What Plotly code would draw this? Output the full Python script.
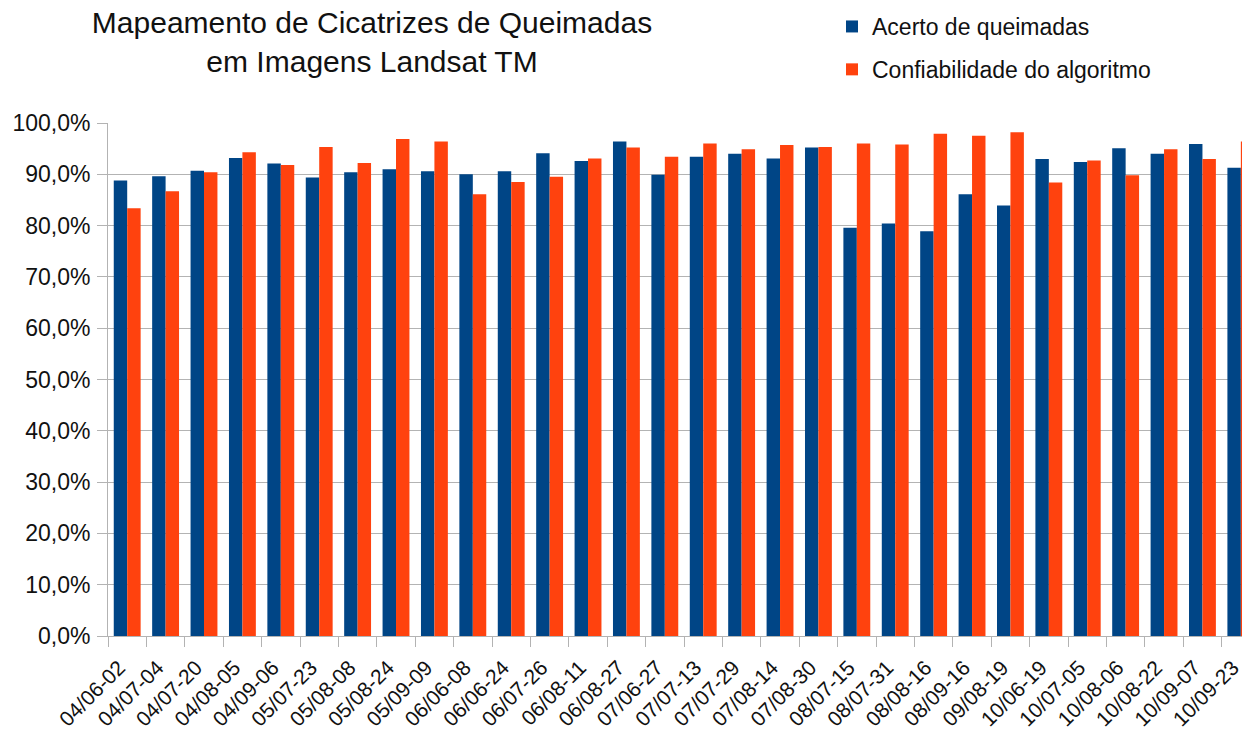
import plotly.graph_objects as go

categories = [
    "04/06-02", "04/07-04", "04/07-20", "04/08-05", "04/09-06",
    "05/07-23", "05/08-08", "05/08-24", "05/09-09", "06/06-08",
    "06/06-24", "06/07-26", "06/08-11", "06/08-27", "07/06-27",
    "07/07-13", "07/07-29", "07/08-14", "07/08-30", "08/07-15",
    "08/07-31", "08/08-16", "08/09-16", "09/08-19", "10/06-19",
    "10/07-05", "10/08-06", "10/08-22", "10/09-07", "10/09-23",
]

acerto = [
    88.8, 89.6, 90.7, 93.2, 92.1, 89.4, 90.4, 91.0, 90.6, 90.0,
    90.6, 94.1, 92.6, 96.4, 89.9, 93.4, 94.0, 93.1, 95.2, 79.6,
    80.4, 78.9, 86.1, 83.9, 93.0, 92.4, 95.1, 94.0, 95.9, 91.3,
]

confiabilidade = [
    83.4, 86.7, 90.4, 94.3, 91.8, 95.3, 92.2, 96.9, 96.4, 86.1,
    88.5, 89.5, 93.1, 95.2, 93.4, 96.0, 94.9, 95.7, 95.3, 96.0,
    95.8, 97.9, 97.5, 98.2, 88.4, 92.7, 89.8, 94.9, 93.0, 96.4,
]

series_names = ["Acerto de queimadas", "Confiabilidade do algoritmo"]
y_ticks = [0, 10, 20, 30, 40, 50, 60, 70, 80, 90, 100]
y_tick_labels = ["0,0%", "10,0%", "20,0%", "30,0%", "40,0%", "50,0%",
                 "60,0%", "70,0%", "80,0%", "90,0%", "100,0%"]

BLUE = "#004586"
ORANGE = "#ff420e"
GRID = "#b3b3b3"
TEXT = "#111111"
FONT = "Liberation Sans, Arial, sans-serif"

fig = go.Figure()
fig.add_trace(go.Bar(x=categories, y=acerto, name=series_names[0],
                     marker=dict(color=BLUE, line=dict(width=0)),
                     legendgroup="a"))
fig.add_trace(go.Bar(x=categories, y=confiabilidade, name=series_names[1],
                     marker=dict(color=ORANGE, line=dict(width=0)),
                     legendgroup="b"))

fig.update_layout(
    width=1242, height=732,
    margin=dict(l=108, r=0, t=123, b=96, autoexpand=False),
    paper_bgcolor="white", plot_bgcolor="white",
    barmode="group", bargap=0.3, bargroupgap=0,
    font=dict(family=FONT, color=TEXT),
    title=dict(
        text="Mapeamento de Cicatrizes de Queimadas<br>em Imagens Landsat TM",
        x=372 / 1242, xanchor="center", xref="container",
        y=1 - 33 / 732, yanchor="top", yref="container",
        font=dict(size=30, family=FONT, color=TEXT),
    ),
    legend=dict(
        x=(832 - 108) / 1134, xanchor="left",
        y=(636 - 5) / 513, yanchor="top",
        font=dict(size=23, family=FONT, color=TEXT),
        traceorder="grouped", tracegroupgap=10,
        bgcolor="rgba(0,0,0,0)",
    ),
    xaxis=dict(
        type="category",
        range=[-0.5, 29.03],
        tickangle=-45,
        tickson="boundaries",
        ticks="outside", ticklen=10, tickcolor=GRID,
        showline=True, linecolor=GRID, linewidth=1,
        showgrid=False,
        automargin=False,
        tickfont=dict(size=21, family=FONT, color=TEXT),
        ticklabelstandoff=10,
        ticklabelshift=-8,
    ),
    yaxis=dict(
        range=[0, 100],
        tickvals=y_ticks, ticktext=y_tick_labels,
        ticks="outside", ticklen=10, tickcolor=GRID,
        showline=True, linecolor=GRID, linewidth=1,
        showgrid=True, gridcolor=GRID, gridwidth=1,
        zeroline=False,
        automargin=False,
        tickfont=dict(size=23, family=FONT, color=TEXT),
        ticklabelstandoff=2,
    ),
    showlegend=True,
)

fig.write_html(
    "out.html",
    config={"displayModeBar": False},
    post_script="document.body.style.margin='0';document.body.style.overflow='hidden';",
)
